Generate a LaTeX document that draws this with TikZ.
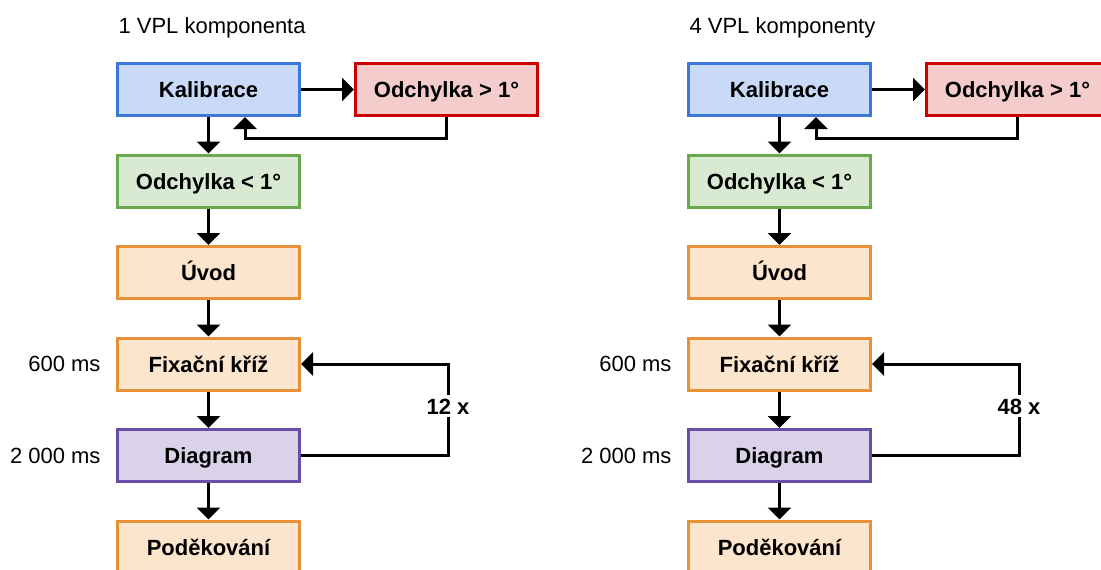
\documentclass[tikz,border=0pt]{standalone}
\usepackage{fontspec}
\setmainfont{Liberation Sans}
\usetikzlibrary{arrows.meta,positioning}
\definecolor{modraF}{HTML}{C9DAF8}\definecolor{modraC}{HTML}{3C78D8}
\definecolor{cervenaF}{HTML}{F4CCCC}\definecolor{cervenaC}{HTML}{CC0000}
\definecolor{zelenaF}{HTML}{D9EAD3}\definecolor{zelenaC}{HTML}{6AA84F}
\definecolor{oranzF}{HTML}{FCE5CD}\definecolor{oranzC}{HTML}{E69138}
\definecolor{fialF}{HTML}{D9D2E9}\definecolor{fialC}{HTML}{674EA7}
\newcommand\velky{\fontsize{22}{26}\selectfont}
\tikzset{
  krok/.style={draw, line width=3pt, minimum width=182pt, minimum height=52pt, text height=16pt, text depth=0pt, font=\velky\bfseries},
  modry/.style={krok, fill=modraF, draw=modraC},
  cerveny/.style={krok, fill=cervenaF, draw=cervenaC},
  zeleny/.style={krok, fill=zelenaF, draw=zelenaC},
  oranz/.style={krok, fill=oranzF, draw=oranzC},
  fial/.style={krok, fill=fialF, draw=fialC},
  cas/.style={font=\velky, inner sep=0pt},
}
\begin{document}
\begin{tikzpicture}[>={Triangle[length=12pt,width=23pt]}, line width=3pt, x=1pt, y=-1pt, font=\velky]
    \useasboundingbox (0,0) rectangle (1101,570);
    \clip (0,0) rectangle (1101,570);
    \foreach \i/\dx/\nadpis/\n in {1/0/{1 VPL komponenta}/12, 2/571/{4 VPL komponenty}/48}{
    \begin{scope}[xshift=\dx pt]
        \node[anchor=base west, inner sep=0pt] (nadpis\i) at (117,33) {\nadpis};
        \node[modry] (kal\i) at (208.5,89.5) {Kalibrace};
        \node[cerveny, right=53pt of kal\i] (odv\i) {Odchylka > 1°};
        \node[zeleny, below=36.5pt of kal\i] (odm\i) {Odchylka < 1°};
        \node[oranz, below=36.5pt of odm\i] (uvod\i) {Úvod};
        \node[oranz, below=36.5pt of uvod\i] (fix\i) {Fixační kříž};
        \node[fial, below=36.5pt of fix\i] (diag\i) {Diagram};
        \node[oranz, below=36.5pt of diag\i] (pod\i) {Poděkování};
        \node[cas, left=14pt of fix\i] (t600\i) {600 ms};
        \node[cas, left=14pt of diag\i] (t2000\i) {2 000 ms};
        % sipky
        \draw[->] (kal\i) -- (odv\i);
        \draw[->] (odv\i.south) -- ++(0,21) -| ([xshift=36.5pt]kal\i.south);
        \draw[->] (kal\i) -- (odm\i);
        \draw[->] (odm\i) -- (uvod\i);
        \draw[->] (uvod\i) -- (fix\i);
        \draw[->] (fix\i) -- (diag\i);
        \draw[->] (diag\i) -- (pod\i);
        \draw[->] (diag\i.east) -- ++(147,0) |- node[pos=0.27, fill=white, text height=16pt, text depth=0pt, font=\velky\bfseries] (opak\i) {\n\ x} (fix\i.east);
    \end{scope}
    }
\end{tikzpicture}
\end{document}
